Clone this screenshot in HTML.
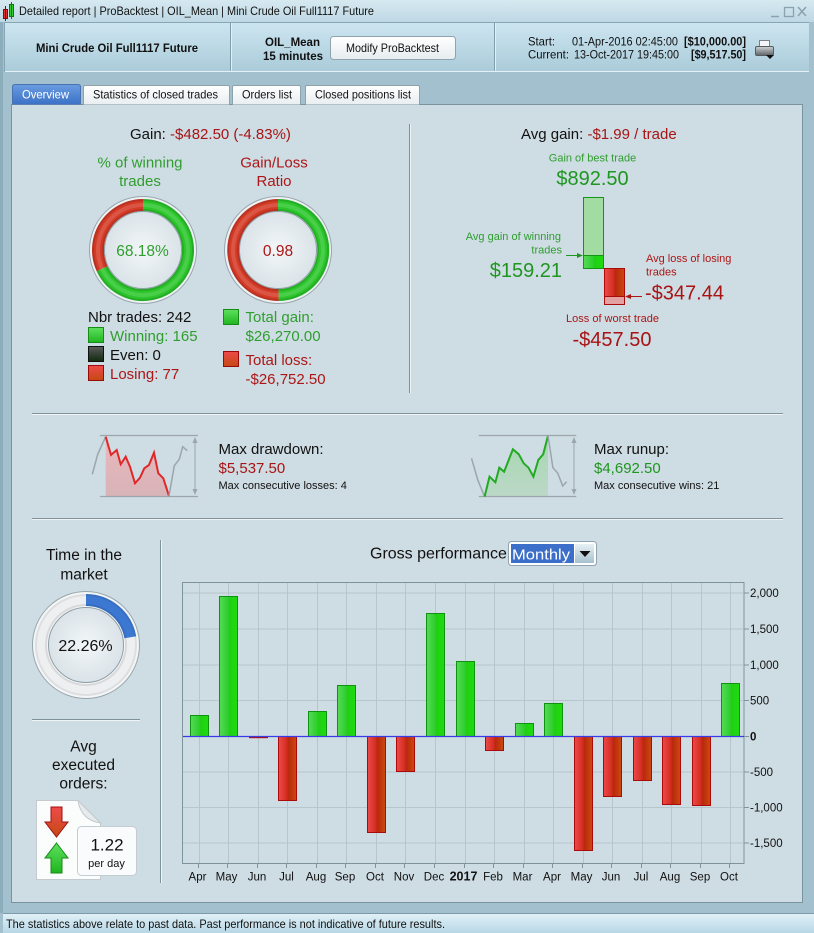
<!DOCTYPE html>
<html><head><meta charset="utf-8"><style>
html,body{margin:0;padding:0;background:#a2c0cd;}
svg{display:block;}
</style></head><body>
<svg width="814" height="933" xmlns="http://www.w3.org/2000/svg" font-family="Liberation Sans, Arial, sans-serif">
<defs>
<linearGradient id="gTitle" x1="0" y1="0" x2="0" y2="1"><stop offset="0" stop-color="#d6e9f1"/><stop offset="1" stop-color="#bed8e4"/></linearGradient>
<linearGradient id="gHead" x1="0" y1="0" x2="0" y2="1"><stop offset="0" stop-color="#cde6f1"/><stop offset="1" stop-color="#aacbd9"/></linearGradient>
<linearGradient id="gStatus" x1="0" y1="0" x2="0" y2="1"><stop offset="0" stop-color="#e3f2f8"/><stop offset="1" stop-color="#b7d7e5"/></linearGradient>
<linearGradient id="gTabSel" x1="0" y1="0" x2="0" y2="1"><stop offset="0" stop-color="#6a9ce0"/><stop offset="1" stop-color="#3b71c6"/></linearGradient>
<linearGradient id="gTab" x1="0" y1="0" x2="0" y2="1"><stop offset="0" stop-color="#ffffff"/><stop offset="1" stop-color="#e9eef1"/></linearGradient>
<linearGradient id="gBtn" x1="0" y1="0" x2="0" y2="1"><stop offset="0" stop-color="#ffffff"/><stop offset="1" stop-color="#e6ecef"/></linearGradient>
<linearGradient id="gGreenBar" x1="0" y1="0" x2="1" y2="0"><stop offset="0" stop-color="#55dc55"/><stop offset="0.5" stop-color="#2ccc2c"/><stop offset="0.55" stop-color="#1fcf12"/><stop offset="1" stop-color="#1fdc10"/></linearGradient>
<linearGradient id="gRedBar" x1="0" y1="0" x2="1" y2="0"><stop offset="0" stop-color="#ee4a4a"/><stop offset="0.45" stop-color="#d42e22"/><stop offset="0.55" stop-color="#b8280c"/><stop offset="1" stop-color="#cc4a10"/></linearGradient>
<linearGradient id="gGreenSq" x1="0" y1="0" x2="0" y2="1"><stop offset="0" stop-color="#5fe05f"/><stop offset="1" stop-color="#1fb51f"/></linearGradient>
<linearGradient id="gRedSq" x1="0" y1="0" x2="0" y2="1"><stop offset="0" stop-color="#ee4a4a"/><stop offset="1" stop-color="#c44a12"/></linearGradient>
<linearGradient id="gBlackSq" x1="0" y1="0" x2="0" y2="1"><stop offset="0" stop-color="#5a5a5a"/><stop offset="1" stop-color="#102a10"/></linearGradient>
<radialGradient id="gDisk" cx="0.5" cy="0.5" r="0.5"><stop offset="0" stop-color="#f2f6f8"/><stop offset="1" stop-color="#dae3e8"/></radialGradient>
<linearGradient id="gDD" x1="0" y1="0" x2="0" y2="1"><stop offset="0" stop-color="#e9b9bd"/><stop offset="1" stop-color="#d7b3b8"/></linearGradient>
<linearGradient id="gRU" x1="0" y1="0" x2="0" y2="1"><stop offset="0" stop-color="#a5d8ad"/><stop offset="1" stop-color="#bcd8c8"/></linearGradient>
<linearGradient id="gDrop" x1="0" y1="0" x2="0" y2="1"><stop offset="0" stop-color="#e8f1f5"/><stop offset="1" stop-color="#a6c1cd"/></linearGradient>
<linearGradient id="gPrinter" x1="0" y1="0" x2="0" y2="1"><stop offset="0" stop-color="#d0d4d6"/><stop offset="1" stop-color="#5c6266"/></linearGradient>
</defs>

<!-- frame -->
<rect x="0" y="0" width="814" height="933" fill="#a2c0cd"/>
<rect x="0" y="22" width="3" height="891" fill="#8badbc"/>
<!-- title bar -->
<rect x="0" y="0" width="814" height="22" fill="url(#gTitle)"/>
<rect x="3.5" y="9.5" width="4" height="9" fill="#e03333" stroke="#990000"/>
<line x1="5.5" y1="6" x2="5.5" y2="21" stroke="#990000"/>
<rect x="9.5" y="4.5" width="4" height="12" fill="#33cc33" stroke="#117711"/>
<line x1="11.5" y1="2" x2="11.5" y2="19" stroke="#117711"/>
<text x="19" y="15" font-size="12" fill="#111" textLength="355" lengthAdjust="spacingAndGlyphs">Detailed report | ProBacktest | OIL_Mean | Mini Crude Oil Full1117 Future</text>
<line x1="771" y1="16.5" x2="779" y2="16.5" stroke="#8aa2ad" stroke-width="1.5"/>
<rect x="784.5" y="7.5" width="9" height="9" fill="none" stroke="#8aa2ad" stroke-width="1.3"/>
<line x1="798" y1="7" x2="806" y2="16" stroke="#8aa2ad" stroke-width="1.5"/>
<line x1="806" y1="7" x2="798" y2="16" stroke="#8aa2ad" stroke-width="1.5"/>

<!-- header -->
<rect x="4" y="22" width="805" height="50" fill="url(#gHead)"/>
<line x1="4" y1="22.5" x2="809" y2="22.5" stroke="#86a6b4"/>
<line x1="4" y1="71.5" x2="809" y2="71.5" stroke="#e4f1f6"/>
<line x1="4.5" y1="22" x2="4.5" y2="72" stroke="#86a6b4"/>
<line x1="230.5" y1="23" x2="230.5" y2="71" stroke="#7f9dab"/>
<line x1="231.5" y1="23" x2="231.5" y2="71" stroke="#e2eff5"/>
<line x1="494.5" y1="23" x2="494.5" y2="71" stroke="#7f9dab"/>
<line x1="495.5" y1="23" x2="495.5" y2="71" stroke="#e2eff5"/>
<text x="36" y="52" font-size="12" font-weight="bold" fill="#111" textLength="162" lengthAdjust="spacingAndGlyphs">Mini Crude Oil Full1117 Future</text>
<text x="265" y="46" font-size="12" font-weight="bold" fill="#111" textLength="55" lengthAdjust="spacingAndGlyphs">OIL_Mean</text>
<text x="263" y="60" font-size="12" font-weight="bold" fill="#111" textLength="60" lengthAdjust="spacingAndGlyphs">15 minutes</text>
<rect x="330.5" y="36.5" width="125" height="23" rx="3" fill="url(#gBtn)" stroke="#8ea3ad"/>
<text x="346" y="52" font-size="12" fill="#111" textLength="93" lengthAdjust="spacingAndGlyphs">Modify ProBacktest</text>
<text x="528" y="45.5" font-size="12" fill="#111" textLength="27" lengthAdjust="spacingAndGlyphs">Start:</text>
<text x="572" y="45.5" font-size="12" fill="#111" textLength="106" lengthAdjust="spacingAndGlyphs">01-Apr-2016 02:45:00</text>
<text x="684" y="45.5" font-size="12" font-weight="bold" fill="#111" textLength="62" lengthAdjust="spacingAndGlyphs">[$10,000.00]</text>
<text x="528" y="58.5" font-size="12" fill="#111" textLength="41" lengthAdjust="spacingAndGlyphs">Current:</text>
<text x="574" y="58.5" font-size="12" fill="#111" textLength="105" lengthAdjust="spacingAndGlyphs">13-Oct-2017 19:45:00</text>
<text x="691" y="58.5" font-size="12" font-weight="bold" fill="#111" textLength="55" lengthAdjust="spacingAndGlyphs">[$9,517.50]</text>
<rect x="759.5" y="40.5" width="10" height="7" fill="#f4f6f7" stroke="#7a8286"/>
<rect x="755.5" y="46.5" width="18" height="9" rx="1.5" fill="url(#gPrinter)" stroke="#555b5e"/>
<polygon points="766,55 774,55 770,59" fill="#111"/>

<!-- content panel -->
<rect x="11.5" y="104.5" width="791" height="798" fill="#cedce3" stroke="#7b939d"/>

<!-- tabs -->
<path d="M12.5,104.5 V87 Q12.5,84.5 15,84.5 H78 Q80.5,84.5 80.5,87 V104.5" fill="url(#gTabSel)" stroke="#4a72b0"/>
<text x="22" y="98.5" font-size="12" fill="#ffffff" textLength="47" lengthAdjust="spacingAndGlyphs">Overview</text>
<path d="M83.5,104.5 V87 Q83.5,85.5 85,85.5 H228 Q229.5,85.5 229.5,87 V104.5" fill="url(#gTab)" stroke="#8ea2ab"/>
<text x="93" y="98.5" font-size="12" fill="#111" textLength="125" lengthAdjust="spacingAndGlyphs">Statistics of closed trades</text>
<path d="M232.5,104.5 V87 Q232.5,85.5 234,85.5 H299 Q300.5,85.5 300.5,87 V104.5" fill="url(#gTab)" stroke="#8ea2ab"/>
<text x="242" y="98.5" font-size="12" fill="#111" textLength="50" lengthAdjust="spacingAndGlyphs">Orders list</text>
<path d="M305.5,104.5 V87 Q305.5,85.5 307,85.5 H418 Q419.5,85.5 419.5,87 V104.5" fill="url(#gTab)" stroke="#8ea2ab"/>
<text x="315" y="98.5" font-size="12" fill="#111" textLength="96" lengthAdjust="spacingAndGlyphs">Closed positions list</text>

<!-- ===== top left ===== -->
<text x="130" y="139" font-size="15" fill="#111">Gain: <tspan fill="#a81414">-$482.50 (-4.83%)</tspan></text>
<text x="140" y="167.5" font-size="15" fill="#2f9e2f" text-anchor="middle">% of winning</text>
<text x="140" y="186" font-size="15" fill="#2f9e2f" text-anchor="middle">trades</text>
<text x="274" y="167.5" font-size="15" fill="#ad1616" text-anchor="middle">Gain/Loss</text>
<text x="274" y="186" font-size="15" fill="#ad1616" text-anchor="middle">Ratio</text>

<!-- donut 1 -->
<circle cx="143" cy="250" r="53.5" fill="#eef2f4" stroke="#97a6ad"/>
<path d="M143,205 A45,45 0 1 1 102.07,268.69" fill="none" stroke="#2cc62c" stroke-width="12"/>
<path d="M102.07,268.69 A45,45 0 0 1 143,205" fill="none" stroke="#d43a26" stroke-width="12"/>
<circle cx="143" cy="250" r="50" fill="none" stroke="rgba(0,0,0,0.13)" stroke-width="2"/>
<circle cx="143" cy="250" r="40" fill="none" stroke="rgba(0,0,0,0.13)" stroke-width="2"/>
<circle cx="143" cy="250" r="45" fill="none" stroke="rgba(255,255,255,0.14)" stroke-width="4"/>
<circle cx="143" cy="250" r="38.5" fill="url(#gDisk)" stroke="#8e9ea6"/>
<text x="142.5" y="256" font-size="15.5" fill="#2f9e2f" text-anchor="middle">68.18%</text>

<!-- donut 2 -->
<circle cx="278" cy="250" r="53.5" fill="#eef2f4" stroke="#97a6ad"/>
<path d="M278,205 A45,45 0 0 1 278.6,295" fill="none" stroke="#2cc62c" stroke-width="12"/>
<path d="M278.6,295 A45,45 0 0 1 278,205" fill="none" stroke="#d43a26" stroke-width="12"/>
<circle cx="278" cy="250" r="50" fill="none" stroke="rgba(0,0,0,0.13)" stroke-width="2"/>
<circle cx="278" cy="250" r="40" fill="none" stroke="rgba(0,0,0,0.13)" stroke-width="2"/>
<circle cx="278" cy="250" r="45" fill="none" stroke="rgba(255,255,255,0.14)" stroke-width="4"/>
<circle cx="278" cy="250" r="38.5" fill="url(#gDisk)" stroke="#8e9ea6"/>
<text x="278" y="256" font-size="15.5" fill="#ad1616" text-anchor="middle">0.98</text>

<text x="88" y="322" font-size="15" fill="#111">Nbr trades: 242</text>
<rect x="88.5" y="327.5" width="15" height="15" fill="url(#gGreenSq)" stroke="#178a17"/>
<text x="110" y="341" font-size="15" fill="#2f9e2f">Winning: 165</text>
<rect x="88.5" y="346.5" width="15" height="15" fill="url(#gBlackSq)" stroke="#111"/>
<text x="110" y="360" font-size="15" fill="#111">Even: 0</text>
<rect x="88.5" y="365.5" width="15" height="15" fill="url(#gRedSq)" stroke="#990a0a"/>
<text x="110" y="379" font-size="15" fill="#ad1616">Losing: 77</text>

<rect x="223.5" y="309.5" width="15" height="15" fill="url(#gGreenSq)" stroke="#178a17"/>
<text x="245.5" y="322" font-size="15" fill="#2f9e2f">Total gain:</text>
<text x="245.5" y="341" font-size="15" fill="#2f9e2f">$26,270.00</text>
<rect x="223.5" y="351.5" width="15" height="15" fill="url(#gRedSq)" stroke="#990a0a"/>
<text x="245.5" y="365" font-size="15" fill="#ad1616">Total loss:</text>
<text x="245.5" y="384" font-size="15" fill="#ad1616">-$26,752.50</text>

<!-- vertical divider -->
<line x1="409.5" y1="124" x2="409.5" y2="393" stroke="#7f939c"/>
<line x1="410.5" y1="124" x2="410.5" y2="393" stroke="#eef4f6"/>

<!-- ===== top right ===== -->
<text x="521" y="139" font-size="15" fill="#111">Avg gain: <tspan fill="#a81414">-$1.99 / trade</tspan></text>
<text x="592.5" y="161.5" font-size="11" fill="#2f9e2f" text-anchor="middle">Gain of best trade</text>
<text x="592.5" y="185" font-size="20" fill="#1f961f" text-anchor="middle">$892.50</text>
<rect x="583.5" y="197.5" width="20" height="71" fill="#a3dca3" stroke="#169416"/>
<rect x="583.5" y="255.5" width="20" height="13" fill="url(#gGreenBar)" stroke="#169416"/>
<rect x="604.5" y="268.5" width="20" height="36" fill="#e3a1a1" stroke="#aa0a0a"/>
<rect x="604.5" y="268.5" width="20" height="28" fill="url(#gRedBar)" stroke="#aa0a0a"/>
<text x="561" y="240" font-size="11" fill="#2f9e2f" text-anchor="end">Avg gain of winning</text>
<text x="562" y="253.5" font-size="11" fill="#2f9e2f" text-anchor="end">trades</text>
<line x1="566" y1="255.5" x2="579" y2="255.5" stroke="#1f961f"/>
<polygon points="583,255.5 577,253 577,258" fill="#1f961f"/>
<text x="562" y="277" font-size="20" fill="#1f961f" text-anchor="end">$159.21</text>
<text x="646" y="262" font-size="11" fill="#ad1616">Avg loss of losing</text>
<text x="646" y="275.5" font-size="11" fill="#ad1616">trades</text>
<line x1="642" y1="296.5" x2="629" y2="296.5" stroke="#ad1616"/>
<polygon points="625,296.5 631,294 631,299" fill="#ad1616"/>
<text x="645" y="299.5" font-size="20" fill="#a81414">-$347.44</text>
<text x="612.5" y="322" font-size="11" fill="#ad1616" text-anchor="middle">Loss of worst trade</text>
<text x="612" y="346" font-size="20" fill="#a81414" text-anchor="middle">-$457.50</text>

<!-- separators -->
<line x1="32" y1="413.5" x2="783" y2="413.5" stroke="#7f939c"/>
<line x1="32" y1="414.5" x2="783" y2="414.5" stroke="#eef4f6"/>
<line x1="32" y1="518.5" x2="783" y2="518.5" stroke="#7f939c"/>
<line x1="32" y1="519.5" x2="783" y2="519.5" stroke="#eef4f6"/>

<!-- drawdown sparkline -->
<polygon points="105.7,436.7 111,455 116.7,450 120.7,464.3 125.7,456.7 130,466.7 135,483.3 140,477.7 144.3,468.3 149,465 154,452.7 158.3,473.3 163.3,478.3 169,496 105.7,496.7" fill="url(#gDD)"/>
<line x1="100" y1="435.5" x2="198" y2="435.5" stroke="#9aa6ab" stroke-width="1.2"/>
<line x1="100" y1="496.5" x2="198" y2="496.5" stroke="#9aa6ab" stroke-width="1.2"/>
<line x1="195" y1="440" x2="195" y2="492" stroke="#9aa6ab"/>
<polygon points="195,437 192.5,443 197.5,443" fill="#9aa6ab"/>
<polygon points="195,495 192.5,489 197.5,489" fill="#9aa6ab"/>
<polyline points="92.3,474.3 97.7,454.3 105.7,436.7" fill="none" stroke="#9aa6ab" stroke-width="1.5"/>
<polyline points="105.7,436.7 111,455 116.7,450 120.7,464.3 125.7,456.7 130,466.7 135,483.3 140,477.7 144.3,468.3 149,465 154,452.7 158.3,473.3 163.3,478.3 169,496" fill="none" stroke="#e02828" stroke-width="2"/>
<polyline points="169,496 174.3,465.7 179.3,459.3 182.7,446.7 187.3,450.7" fill="none" stroke="#9aa6ab" stroke-width="1.5"/>
<text x="218.5" y="454" font-size="15" fill="#111">Max drawdown:</text>
<text x="218.5" y="473" font-size="15" fill="#a81414">$5,537.50</text>
<text x="218.5" y="489" font-size="11" fill="#111">Max consecutive losses: 4</text>

<!-- runup sparkline -->
<polygon points="484.6,497 489.5,476.7 495.4,482.3 499.3,467.7 504.1,471.7 512.9,449.3 518.8,454.3 523.7,463.3 528.5,467.7 533.4,476.7 538.3,460 543.2,454.3 548,435.7 548,497" fill="url(#gRU)"/>
<line x1="478.8" y1="435.5" x2="576.3" y2="435.5" stroke="#9aa6ab" stroke-width="1.2"/>
<line x1="478.8" y1="496.5" x2="576.3" y2="496.5" stroke="#9aa6ab" stroke-width="1.2"/>
<line x1="574" y1="440" x2="574" y2="492" stroke="#9aa6ab"/>
<polygon points="574,437 571.5,443 576.5,443" fill="#9aa6ab"/>
<polygon points="574,495 571.5,489 576.5,489" fill="#9aa6ab"/>
<polyline points="471.5,458.3 477.8,480 484.6,496.7" fill="none" stroke="#9aa6ab" stroke-width="1.5"/>
<polyline points="484.6,496.7 489.5,476.7 495.4,482.3 499.3,467.7 504.1,471.7 512.9,449.3 518.8,454.3 523.7,463.3 528.5,467.7 533.4,476.7 538.3,460 543.2,454.3 548,435.7" fill="none" stroke="#22aa22" stroke-width="2"/>
<polyline points="548,435.7 552.9,467.7 557.8,473.3 562.7,486 566.6,481.7" fill="none" stroke="#9aa6ab" stroke-width="1.5"/>
<text x="594" y="454" font-size="15" fill="#111">Max runup:</text>
<text x="594" y="473" font-size="15" fill="#1f961f">$4,692.50</text>
<text x="594" y="489" font-size="11" fill="#111">Max consecutive wins: 21</text>

<!-- ===== bottom left ===== -->
<text x="84" y="560" font-size="15.5" fill="#111" text-anchor="middle">Time in the</text>
<text x="84" y="579.5" font-size="15.5" fill="#111" text-anchor="middle">market</text>
<circle cx="86" cy="645" r="53.5" fill="#f4f5f6" stroke="#97a6ad"/>
<circle cx="86" cy="645" r="45" fill="none" stroke="#eeeff0" stroke-width="12"/>
<path d="M86,600 A45,45 0 0 1 130.3,637.26" fill="none" stroke="#3c78d2" stroke-width="12"/>
<circle cx="86" cy="645" r="50" fill="none" stroke="rgba(0,0,0,0.07)" stroke-width="2"/>
<circle cx="86" cy="645" r="40" fill="none" stroke="rgba(0,0,0,0.09)" stroke-width="2"/>
<circle cx="86" cy="645" r="37.5" fill="url(#gDisk)" stroke="#8e9ea6"/>
<text x="85.5" y="651" font-size="16" fill="#111" text-anchor="middle">22.26%</text>

<line x1="32" y1="719.5" x2="140" y2="719.5" stroke="#7f939c"/>
<line x1="32" y1="720.5" x2="140" y2="720.5" stroke="#eef4f6"/>

<text x="83.5" y="751.5" font-size="15.5" fill="#111" text-anchor="middle">Avg</text>
<text x="83.5" y="770" font-size="15.5" fill="#111" text-anchor="middle">executed</text>
<text x="83.5" y="788.5" font-size="15.5" fill="#111" text-anchor="middle">orders:</text>

<path d="M36.5,800.5 H78 L100.5,823 V879.5 H36.5 Z" fill="#fbfcfc" stroke="#c3cbcf"/>
<path d="M78,800.5 Q81,820 100.5,823 Z" fill="#e6eaec" stroke="#c3cbcf"/>
<polygon points="51,807 62,807 62,822 68,822 56.5,837 45,822 51,822" fill="url(#gRedSq)" stroke="#a01010"/>
<polygon points="56.5,843 68,858 62,858 62,873 51,873 51,858 45,858" fill="url(#gGreenSq)" stroke="#178a17"/>
<rect x="77.5" y="826.5" width="59" height="49" rx="4" fill="#fafbfc" stroke="#c3ccd0"/>
<text x="107" y="850.5" font-size="17" fill="#111" text-anchor="middle">1.22</text>
<text x="106.5" y="867" font-size="11" fill="#111" text-anchor="middle">per day</text>

<line x1="160.5" y1="540" x2="160.5" y2="883" stroke="#7f939c"/>
<line x1="161.5" y1="540" x2="161.5" y2="883" stroke="#eef4f6"/>

<!-- ===== chart ===== -->
<text x="370" y="558.5" font-size="16" fill="#111">Gross performance</text>
<rect x="508.5" y="541.5" width="88" height="24" rx="3" fill="#ffffff" stroke="#8fa4ae"/>
<rect x="511" y="544" width="63" height="19" fill="#3c6fc9"/>
<text x="512" y="559.5" font-size="15" fill="#ffffff" textLength="58" lengthAdjust="spacingAndGlyphs">Monthly</text>
<rect x="575" y="544" width="19" height="19" fill="url(#gDrop)"/>
<polygon points="579.5,551 590.5,551 585,557" fill="#111"/>

<rect x="182.5" y="582.5" width="561.5" height="281" fill="#cedce3" stroke="#7f939c"/>
<g stroke="#b7c6cd" stroke-width="1">
<line x1="183" y1="593" x2="743" y2="593"/>
<line x1="183" y1="629" x2="743" y2="629"/>
<line x1="183" y1="665" x2="743" y2="665"/>
<line x1="183" y1="700.5" x2="743" y2="700.5"/>
<line x1="183" y1="772" x2="743" y2="772"/>
<line x1="183" y1="807.5" x2="743" y2="807.5"/>
<line x1="183" y1="843" x2="743" y2="843"/>
<line x1="199.5" y1="583" x2="199.5" y2="863"/>
<line x1="228.5" y1="583" x2="228.5" y2="863"/>
<line x1="258.5" y1="583" x2="258.5" y2="863"/>
<line x1="287.5" y1="583" x2="287.5" y2="863"/>
<line x1="317.5" y1="583" x2="317.5" y2="863"/>
<line x1="346.5" y1="583" x2="346.5" y2="863"/>
<line x1="376.5" y1="583" x2="376.5" y2="863"/>
<line x1="405.5" y1="583" x2="405.5" y2="863"/>
<line x1="435.5" y1="583" x2="435.5" y2="863"/>
<line x1="465.5" y1="583" x2="465.5" y2="863"/>
<line x1="494.5" y1="583" x2="494.5" y2="863"/>
<line x1="524.5" y1="583" x2="524.5" y2="863"/>
<line x1="553.5" y1="583" x2="553.5" y2="863"/>
<line x1="583.5" y1="583" x2="583.5" y2="863"/>
<line x1="612.5" y1="583" x2="612.5" y2="863"/>
<line x1="642.5" y1="583" x2="642.5" y2="863"/>
<line x1="671.5" y1="583" x2="671.5" y2="863"/>
<line x1="701.5" y1="583" x2="701.5" y2="863"/>
<line x1="730.5" y1="583" x2="730.5" y2="863"/>
</g>

<!-- bars -->
<g stroke-width="1">
<rect x="190.5" y="715.5" width="18" height="21" fill="url(#gGreenBar)" stroke="#119111"/>
<rect x="219.5" y="596.5" width="18" height="140" fill="url(#gGreenBar)" stroke="#119111"/>
<rect x="249.5" y="736.5" width="18" height="1.2" fill="url(#gRedBar)" stroke="#aa0a0a"/>
<rect x="278.5" y="736.5" width="18" height="64" fill="url(#gRedBar)" stroke="#aa0a0a"/>
<rect x="308.5" y="711.5" width="18" height="25" fill="url(#gGreenBar)" stroke="#119111"/>
<rect x="337.5" y="685.5" width="18" height="51" fill="url(#gGreenBar)" stroke="#119111"/>
<rect x="367.5" y="736.5" width="18" height="96" fill="url(#gRedBar)" stroke="#aa0a0a"/>
<rect x="396.5" y="736.5" width="18" height="35" fill="url(#gRedBar)" stroke="#aa0a0a"/>
<rect x="426.5" y="613.5" width="18" height="123" fill="url(#gGreenBar)" stroke="#119111"/>
<rect x="456.5" y="661.5" width="18" height="75" fill="url(#gGreenBar)" stroke="#119111"/>
<rect x="485.5" y="736.5" width="18" height="14" fill="url(#gRedBar)" stroke="#aa0a0a"/>
<rect x="515.5" y="723.5" width="18" height="13" fill="url(#gGreenBar)" stroke="#119111"/>
<rect x="544.5" y="703.5" width="18" height="33" fill="url(#gGreenBar)" stroke="#119111"/>
<rect x="574.5" y="736.5" width="18" height="114" fill="url(#gRedBar)" stroke="#aa0a0a"/>
<rect x="603.5" y="736.5" width="18" height="60" fill="url(#gRedBar)" stroke="#aa0a0a"/>
<rect x="633.5" y="736.5" width="18" height="44" fill="url(#gRedBar)" stroke="#aa0a0a"/>
<rect x="662.5" y="736.5" width="18" height="68" fill="url(#gRedBar)" stroke="#aa0a0a"/>
<rect x="692.5" y="736.5" width="18" height="69" fill="url(#gRedBar)" stroke="#aa0a0a"/>
<rect x="721.5" y="683.5" width="18" height="53" fill="url(#gGreenBar)" stroke="#119111"/>
</g>
<line x1="183" y1="736.5" x2="744" y2="736.5" stroke="#3a3ae6" stroke-width="1.3"/>

<!-- y axis -->
<g stroke="#7f939c">
<line x1="744" y1="593" x2="749" y2="593"/>
<line x1="744" y1="629" x2="749" y2="629"/>
<line x1="744" y1="665" x2="749" y2="665"/>
<line x1="744" y1="700.5" x2="749" y2="700.5"/>
<line x1="744" y1="736.5" x2="749" y2="736.5"/>
<line x1="744" y1="772" x2="749" y2="772"/>
<line x1="744" y1="807.5" x2="749" y2="807.5"/>
<line x1="744" y1="843" x2="749" y2="843"/>
</g>
<g font-size="11.5" fill="#111">
<text x="750" y="597">2,000</text>
<text x="750" y="633">1,500</text>
<text x="750" y="669">1,000</text>
<text x="750" y="704.5">500</text>
<text x="750" y="740.5" font-weight="bold">0</text>
<text x="750" y="776">-500</text>
<text x="750" y="811.5">-1,000</text>
<text x="750" y="847">-1,500</text>
</g>

<!-- x axis -->
<g stroke="#7f939c">
<line x1="198.5" y1="864" x2="198.5" y2="868"/>
<line x1="227.5" y1="864" x2="227.5" y2="868"/>
<line x1="257.5" y1="864" x2="257.5" y2="868"/>
<line x1="286.5" y1="864" x2="286.5" y2="868"/>
<line x1="316.5" y1="864" x2="316.5" y2="868"/>
<line x1="345.5" y1="864" x2="345.5" y2="868"/>
<line x1="375.5" y1="864" x2="375.5" y2="868"/>
<line x1="404.5" y1="864" x2="404.5" y2="868"/>
<line x1="434.5" y1="864" x2="434.5" y2="868"/>
<line x1="464.5" y1="864" x2="464.5" y2="868"/>
<line x1="493.5" y1="864" x2="493.5" y2="868"/>
<line x1="523.5" y1="864" x2="523.5" y2="868"/>
<line x1="552.5" y1="864" x2="552.5" y2="868"/>
<line x1="582.5" y1="864" x2="582.5" y2="868"/>
<line x1="611.5" y1="864" x2="611.5" y2="868"/>
<line x1="641.5" y1="864" x2="641.5" y2="868"/>
<line x1="670.5" y1="864" x2="670.5" y2="868"/>
<line x1="700.5" y1="864" x2="700.5" y2="868"/>
<line x1="729.5" y1="864" x2="729.5" y2="868"/>
</g>
<g font-size="11.5" fill="#111" text-anchor="middle">
<text x="197.5" y="880.5">Apr</text>
<text x="226.5" y="880.5">May</text>
<text x="257" y="880.5">Jun</text>
<text x="286.5" y="880.5">Jul</text>
<text x="316" y="880.5">Aug</text>
<text x="345" y="880.5">Sep</text>
<text x="375" y="880.5">Oct</text>
<text x="404" y="880.5">Nov</text>
<text x="434" y="880.5">Dec</text>
<text x="463.5" y="880.5" font-weight="bold" font-size="12.5">2017</text>
<text x="493" y="880.5">Feb</text>
<text x="522.5" y="880.5">Mar</text>
<text x="552" y="880.5">Apr</text>
<text x="581.5" y="880.5">May</text>
<text x="611" y="880.5">Jun</text>
<text x="641" y="880.5">Jul</text>
<text x="670" y="880.5">Aug</text>
<text x="700" y="880.5">Sep</text>
<text x="729" y="880.5">Oct</text>
</g>

<!-- status bar -->
<rect x="3" y="913" width="811" height="20" fill="url(#gStatus)"/>
<line x1="3" y1="913.5" x2="814" y2="913.5" stroke="#7d9aa8"/>
<text x="6" y="928" font-size="12" fill="#111" textLength="439" lengthAdjust="spacingAndGlyphs">The statistics above relate to past data. Past performance is not indicative of future results.</text>
</svg>
</body></html>
